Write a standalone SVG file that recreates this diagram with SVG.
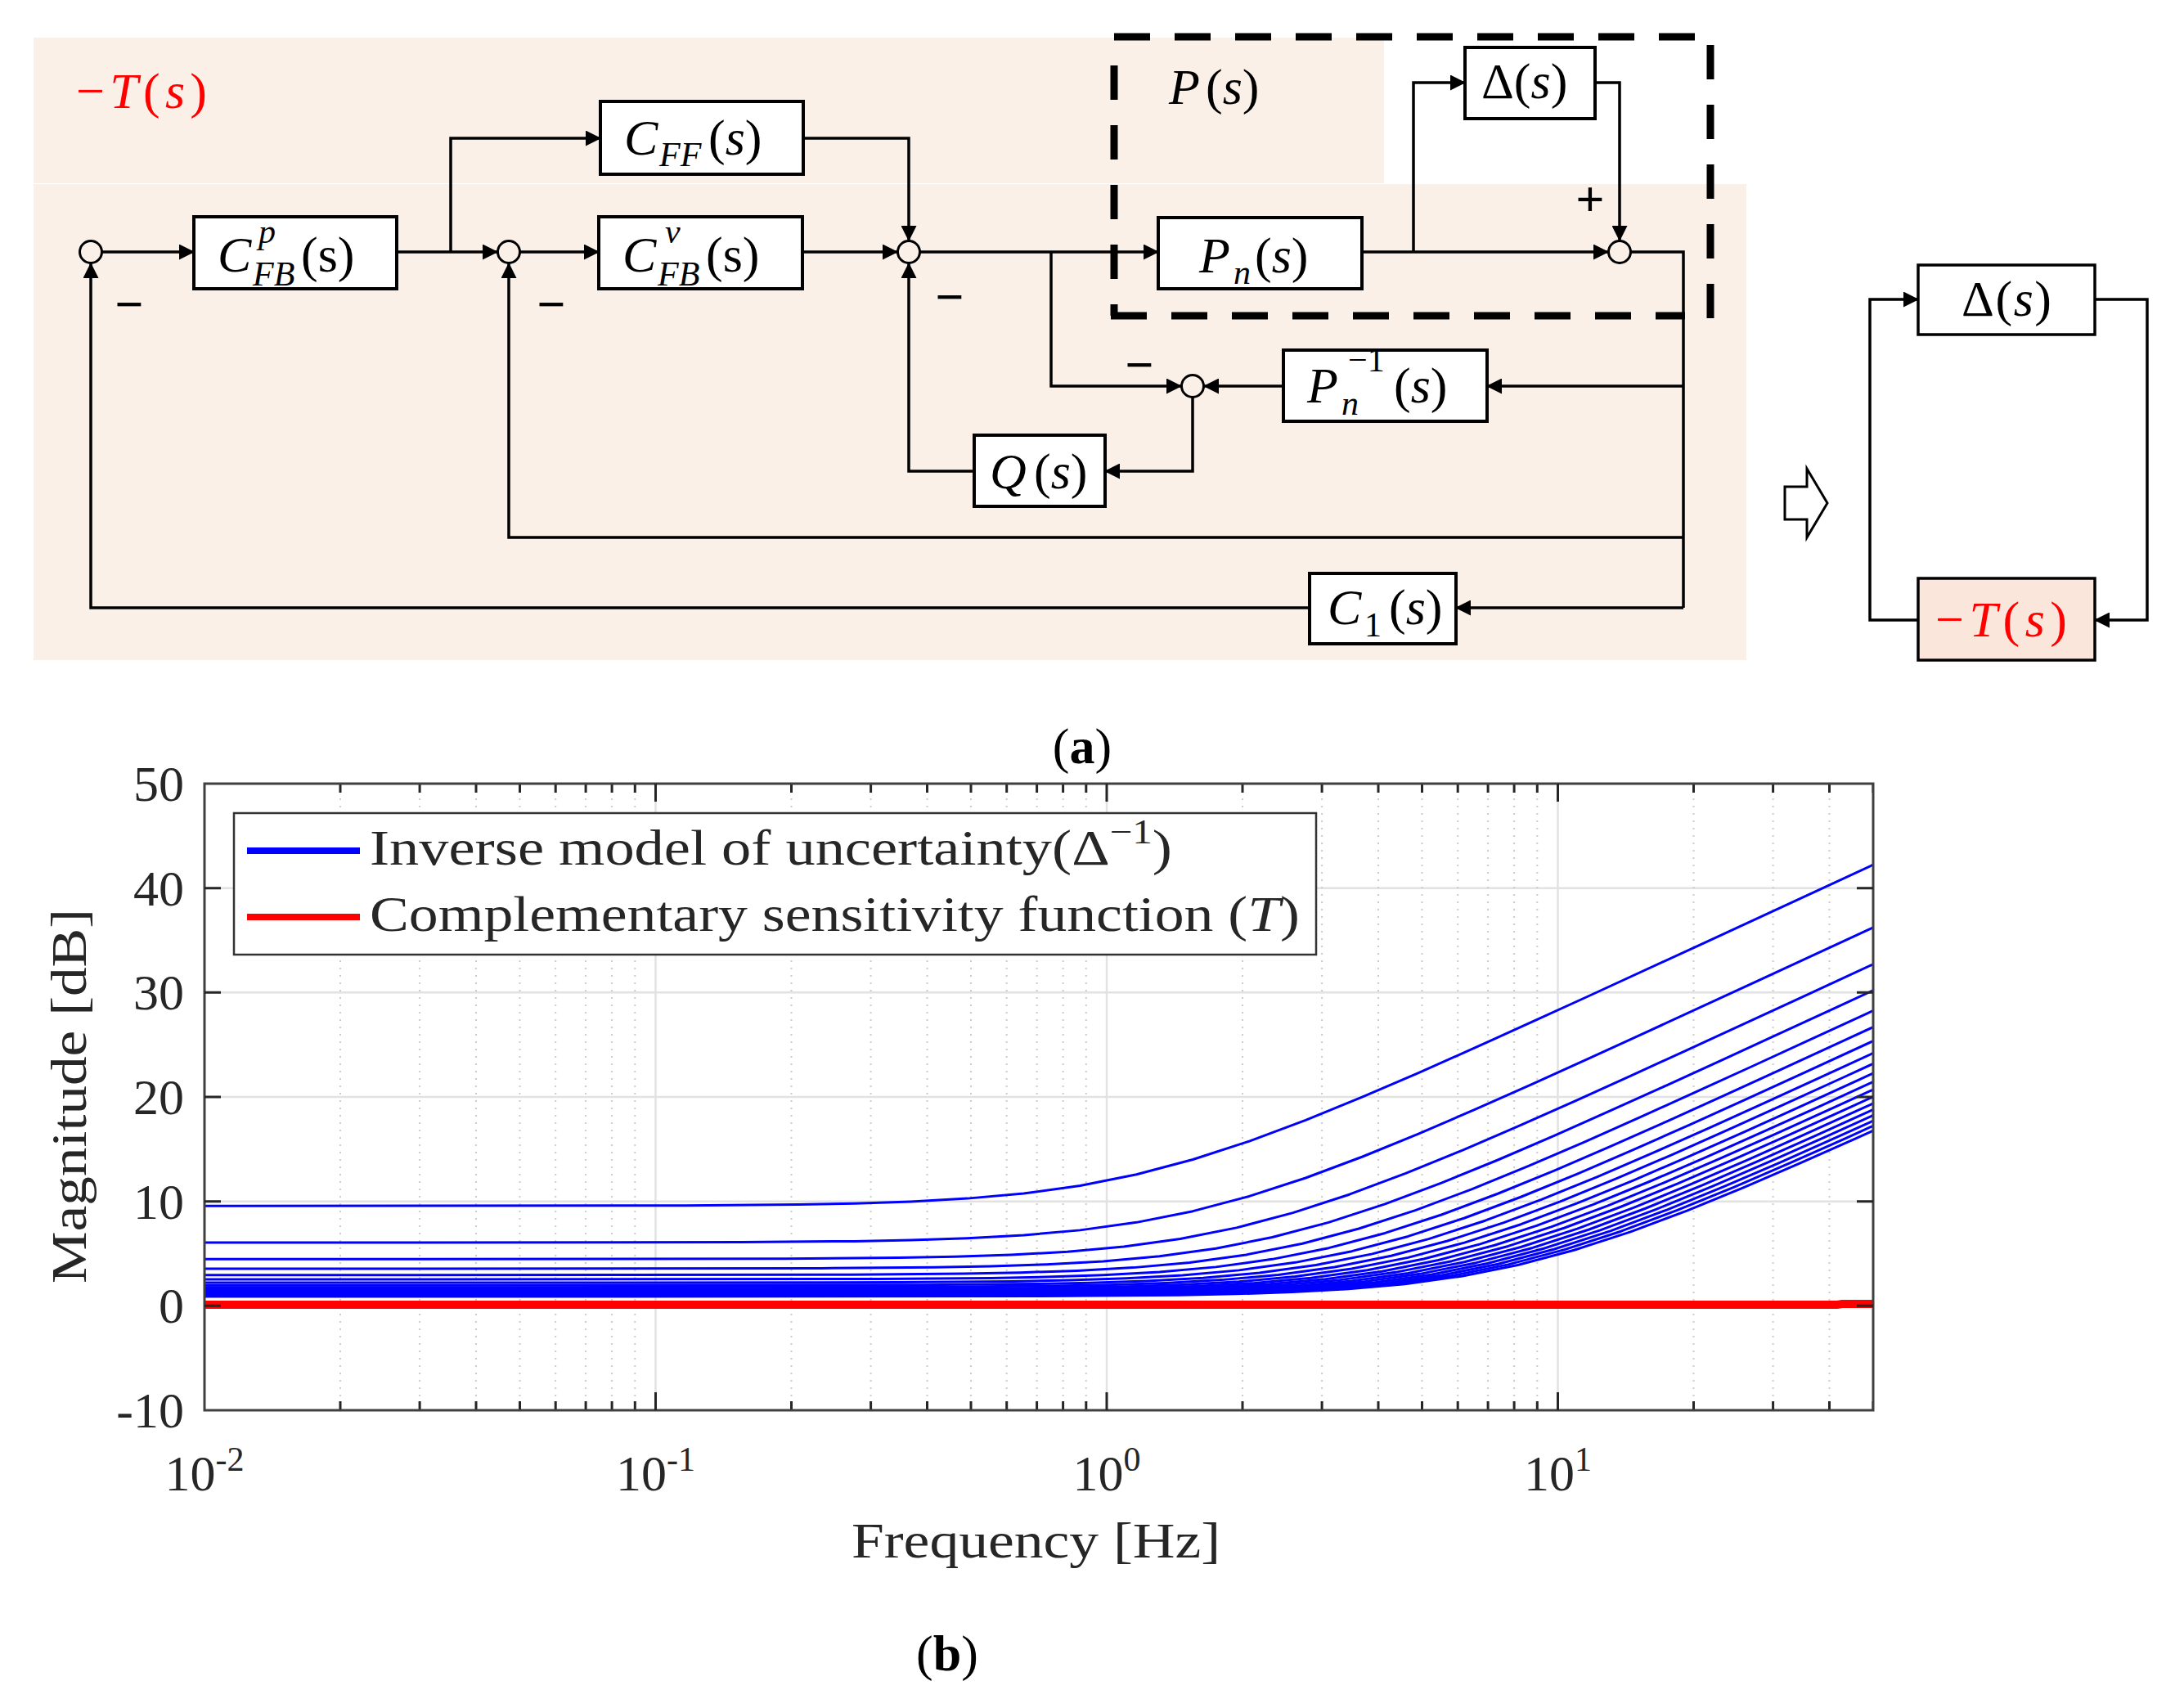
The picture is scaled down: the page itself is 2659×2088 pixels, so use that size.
<svg xmlns="http://www.w3.org/2000/svg" width="2659" height="2088" viewBox="0 0 2659 2088">
<style>
.ln{stroke:#000;stroke-width:3.5;fill:none}
.ar{marker-end:url(#ah)}
.box{fill:#fff;stroke:#000;stroke-width:4}
.sum{fill:none;stroke:#000;stroke-width:3}
.mt{font-family:"Liberation Serif",serif;font-size:62px;fill:#000}
.i{font-style:italic}
.sb{font-size:42px}
.red{fill:#ff0000}
.sg{font-weight:bold}
.dsh{stroke:#000;stroke-width:9;fill:none}
.tk{font-family:"Liberation Serif",serif;font-size:62px;fill:#262626}
.grid{stroke:#e2e2e2;stroke-width:2.5;fill:none}
.mgrid{stroke:#cccccc;stroke-width:2;stroke-dasharray:2 7;fill:none}
.tick{stroke:#262626;stroke-width:3;fill:none}
</style>
<defs>
<marker id="ah" markerUnits="userSpaceOnUse" markerWidth="19" markerHeight="19" refX="18" refY="9.5" orient="auto">
<path d="M0,0 L19,9.5 L0,19 z" fill="#000"/>
</marker>
<clipPath id="pc"><rect x="250" y="958" width="2040" height="766"/></clipPath>
<g id="minor">
<path class="mgrid" d="M166,958V1724M263.1,958V1724M332,958V1724M385.5,958V1724M429.2,958V1724M466.1,958V1724M498.1,958V1724M526.3,958V1724"/>
<path class="tick" d="M166,1724v-11M263.1,1724v-11M332,1724v-11M385.5,1724v-11M429.2,1724v-11M466.1,1724v-11M498.1,1724v-11M526.3,1724v-11M166,958v11M263.1,958v11M332,958v11M385.5,958v11M429.2,958v11M466.1,958v11M498.1,958v11M526.3,958v11"/>
</g>
<path id="bc" d="M-2206,0 L-1103,0 L-551.5,-0.55 L-413.6,-1.72 L-344.7,-3.03 L-275.8,-5.29 L-206.8,-9.08 L-137.9,-15.23 L-68.9,-24.74 L0,-38.44 L68.9,-56.67 L137.9,-79.09 L206.8,-104.85 L275.8,-132.99 L344.7,-162.66 L413.6,-193.27 L482.6,-224.46 L551.5,-255.95 L689.4,-319.43 L827.3,-383.15 L1103,-510.8 L2206,-1021.6"/>
</defs>
<rect width="2659" height="2088" fill="#fff"/>

<g id="background-a">
<rect x="41" y="46" width="1651" height="178" fill="#fbf0e8"/>
<rect x="41" y="225" width="2094" height="582" fill="#fbf0e8"/>
</g>

<g id="P-boundary">
<path class="dsh" d="M1362,45 H2091" stroke-dasharray="44 30"/>
<path class="dsh" d="M1362,80 V386" stroke-dasharray="42 31"/>
<path class="dsh" d="M1358,386 H2060" stroke-dasharray="44 30"/>
<path class="dsh" d="M2091,55 V390" stroke-dasharray="42 31"/>
<text class="mt" x="1429" y="127"><tspan class="i">P</tspan><tspan x="1474">(</tspan><tspan class="i">s</tspan><tspan>)</tspan></text>
</g>

<text id="label-minusT" class="mt red" x="93" y="132" textLength="160" lengthAdjust="spacing">−<tspan class="i">T</tspan>(<tspan class="i">s</tspan>)</text>

<g id="connectors" class="ln">
<path class="ar" d="M125,308 H237"/>
<path class="ar" d="M485,308 H608"/>
<path class="ar" d="M551,308 V169 H734"/>
<path class="ar" d="M636,308 H732"/>
<path class="ar" d="M981,308 H1097"/>
<path class="ar" d="M982,169 H1111 V294"/>
<path class="ar" d="M1125,308 H1416"/>
<path class="ar" d="M1285,308 V472 H1444"/>
<path class="ar" d="M1665,308 H1966"/>
<path class="ar" d="M1728,308 V101 H1791"/>
<path class="ar" d="M1950,101 H1980 V294"/>
<path d="M1994,308 H2058 V743"/>
<path class="ar" d="M2058,472 H1818"/>
<path class="ar" d="M1569,472 H1472"/>
<path class="ar" d="M1458,486 V576 H1351"/>
<path class="ar" d="M1191,576 H1111 V322"/>
<path class="ar" d="M2058,657 H622 V322"/>
<path class="ar" d="M2058,743 H1780"/>
<path class="ar" d="M1601,743 H111 V322"/>
<path class="ar" d="M2345,758 H2286 V366 H2345"/>
<path class="ar" d="M2561,366 H2625 V758 H2561"/>
</g>

<g id="sum1"><circle class="sum" cx="111" cy="308" r="13.5"/><text class="mt sg" x="158" y="393" text-anchor="middle" font-size="66">−</text></g>
<g id="sum2"><circle class="sum" cx="622" cy="308" r="13.5"/><text class="mt sg" x="674" y="393" text-anchor="middle" font-size="66">−</text></g>
<g id="sum3"><circle class="sum" cx="1111" cy="308" r="13.5"/><text class="mt sg" x="1161" y="384" text-anchor="middle" font-size="66">−</text></g>
<g id="sum4"><circle class="sum" cx="1980" cy="308" r="13.5"/><text class="mt sg" x="1944" y="264" text-anchor="middle" font-size="46">+</text></g>
<g id="sum5"><circle class="sum" cx="1458" cy="472" r="13.5"/><text class="mt sg" x="1393" y="467" text-anchor="middle" font-size="66">−</text></g>

<g id="CFBp"><rect class="box" x="237" y="265" width="248" height="88"/>
<text class="mt"><tspan class="i" x="266" y="332">C</tspan><tspan class="i sb" x="316" y="297">p</tspan><tspan class="i sb" x="309" y="349">FB</tspan><tspan x="368" y="332">(s)</tspan></text></g>
<g id="CFF"><rect class="box" x="734" y="124" width="248" height="89"/>
<text class="mt"><tspan class="i" x="763" y="189">C</tspan><tspan class="i sb" x="806" y="203">FF</tspan><tspan x="866" y="189">(</tspan><tspan class="i">s</tspan><tspan>)</tspan></text></g>
<g id="CFBv"><rect class="box" x="732" y="265" width="249" height="88"/>
<text class="mt"><tspan class="i" x="761" y="332">C</tspan><tspan class="i sb" x="813" y="297">v</tspan><tspan class="i sb" x="804" y="349">FB</tspan><tspan x="863" y="332">(s)</tspan></text></g>
<g id="Pn"><rect class="box" x="1416" y="266" width="249" height="87"/>
<text class="mt"><tspan class="i" x="1466" y="333">P</tspan><tspan class="i sb" x="1508" y="347">n</tspan><tspan x="1534" y="333">(</tspan><tspan class="i">s</tspan><tspan>)</tspan></text></g>
<g id="Delta"><rect class="box" x="1791" y="58" width="159" height="87"/>
<text class="mt" font-size="58" x="1811" y="120">Δ(<tspan class="i">s</tspan>)</text></g>
<g id="PnInv"><rect class="box" x="1569" y="428" width="249" height="87"/>
<text class="mt"><tspan class="i" x="1598" y="492">P</tspan><tspan class="i sb" x="1640" y="507">n</tspan><tspan class="sb" x="1648" y="454">−1</tspan><tspan x="1704" y="492">(</tspan><tspan class="i">s</tspan><tspan>)</tspan></text></g>
<g id="Q"><rect class="box" x="1191" y="532" width="160" height="87"/>
<text class="mt"><tspan class="i" x="1210" y="597">Q</tspan><tspan x="1264" y="597">(</tspan><tspan class="i">s</tspan><tspan>)</tspan></text></g>
<g id="C1"><rect class="box" x="1601" y="701" width="179" height="86"/>
<text class="mt"><tspan class="i" x="1623" y="763">C</tspan><tspan class="sb" x="1668" y="778">1</tspan><tspan x="1698" y="763">(</tspan><tspan class="i">s</tspan><tspan>)</tspan></text></g>

<g id="implies-arrow"><path d="M2182,595 H2209 V573 L2234,615 L2209,657 V635 H2182 Z" fill="#fff" stroke="#000" stroke-width="3"/></g>
<g id="Delta2"><rect x="2345" y="324" width="216" height="85" fill="#fff" stroke="#000" stroke-width="3.5"/>
<text class="mt" font-size="62" x="2398" y="386" textLength="110" lengthAdjust="spacing">Δ(<tspan class="i">s</tspan>)</text></g>
<g id="minusT2"><rect x="2345" y="707" width="216" height="100" fill="#fae6da" stroke="#000" stroke-width="3.5"/>
<text class="mt red" font-size="66" x="2366" y="778" textLength="161" lengthAdjust="spacing">−<tspan class="i">T</tspan>(<tspan class="i">s</tspan>)</text></g>

<text id="cap-a" class="mt" x="1323" y="933" text-anchor="middle">(<tspan font-weight="bold">a</tspan>)</text>

<g id="plot">
<g id="grid">
<path class="grid" d="M801.5,958V1724M1353,958V1724M1904.5,958V1724M250,1085.7H2290M250,1213.3H2290M250,1341H2290M250,1468.7H2290M250,1596.3H2290"/>
<g clip-path="url(#pc)">
<use href="#minor" x="250"/><use href="#minor" x="801.5"/><use href="#minor" x="1353"/><use href="#minor" x="1904.5"/>
</g>
</g>
<g id="curves-blue" clip-path="url(#pc)" fill="none" stroke="#0000ff" stroke-width="3" stroke-linejoin="round">
<use href="#bc" transform="translate(1389.4,1474.2)"/>
<use href="#bc" transform="translate(1458.3,1519.1)"/>
<use href="#bc" transform="translate(1511.7,1539.3)"/>
<use href="#bc" transform="translate(1555.4,1551.0)"/>
<use href="#bc" transform="translate(1592.3,1558.7)"/>
<use href="#bc" transform="translate(1624.3,1564.1)"/>
<use href="#bc" transform="translate(1652.5,1568.1)"/>
<use href="#bc" transform="translate(1677.7,1571.3)"/>
<use href="#bc" transform="translate(1700.6,1573.7)"/>
<use href="#bc" transform="translate(1721.4,1575.8)"/>
<use href="#bc" transform="translate(1740.6,1577.5)"/>
<use href="#bc" transform="translate(1758.4,1578.9)"/>
<use href="#bc" transform="translate(1774.8,1580.1)"/>
<use href="#bc" transform="translate(1790.3,1581.2)"/>
<use href="#bc" transform="translate(1804.8,1582.1)"/>
<use href="#bc" transform="translate(1818.5,1582.9)"/>
<use href="#bc" transform="translate(1831.5,1583.7)"/>
<use href="#bc" transform="translate(1843.8,1584.3)"/>
<use href="#bc" transform="translate(1855.5,1584.9)"/>
</g>
<path id="curve-red" d="M250,1595 H2246 L2252,1594 H2290" fill="none" stroke="#ff0000" stroke-width="10" clip-path="url(#pc)"/>
<g id="axes">
<rect x="250" y="958" width="2040" height="766" fill="none" stroke="#404040" stroke-width="3"/>
<path class="tick" d="M801.5,1724v-22M1353,1724v-22M1904.5,1724v-22M801.5,958v22M1353,958v22M1904.5,958v22M250,1085.7h20M250,1213.3h20M250,1341h20M250,1468.7h20M250,1596.3h20M2290,1085.7h-20M2290,1213.3h-20M2290,1341h-20M2290,1468.7h-20M2290,1596.3h-20"/>
</g>
<g id="legend">
<rect x="286" y="994" width="1323" height="173" fill="#fff" stroke="#333" stroke-width="2.5"/>
<path d="M302,1040H440" stroke="#0000ff" stroke-width="8"/>
<path d="M302,1121H440" stroke="#ff0000" stroke-width="8"/>
<text class="tk" font-size="68" x="452" y="1057" fill="#000" textLength="981" lengthAdjust="spacingAndGlyphs">Inverse model of uncertainty(Δ<tspan font-size="42" dy="-26">−1</tspan><tspan dy="26">)</tspan></text>
<text class="tk" font-size="68" x="452" y="1138" fill="#000" textLength="1137" lengthAdjust="spacingAndGlyphs">Complementary sensitivity function (<tspan font-style="italic">T</tspan>)</text>
</g>
<g id="ytick-labels" class="tk" text-anchor="end">
<text x="225" y="979">50</text>
<text x="225" y="1107">40</text>
<text x="225" y="1234">30</text>
<text x="225" y="1362">20</text>
<text x="225" y="1490">10</text>
<text x="225" y="1617">0</text>
<text x="225" y="1745">-10</text>
</g>
<g id="xtick-labels" class="tk" text-anchor="middle">
<text x="250" y="1822">10<tspan font-size="42" dy="-24">-2</tspan></text>
<text x="801.5" y="1822">10<tspan font-size="42" dy="-24">-1</tspan></text>
<text x="1353" y="1822">10<tspan font-size="42" dy="-24">0</tspan></text>
<text x="1904.5" y="1822">10<tspan font-size="42" dy="-24">1</tspan></text>
</g>
<text id="ylabel" class="tk" font-size="70" text-anchor="middle" transform="translate(105,1340) rotate(-90)" textLength="458" lengthAdjust="spacingAndGlyphs">Magnitude [dB]</text>
<text id="xlabel" class="tk" font-size="70" x="1041" y="1904" textLength="451" lengthAdjust="spacingAndGlyphs">Frequency [Hz]</text>
</g>
<text id="cap-b" class="mt" x="1158" y="2042" text-anchor="middle">(<tspan font-weight="bold">b</tspan>)</text>
</svg>
